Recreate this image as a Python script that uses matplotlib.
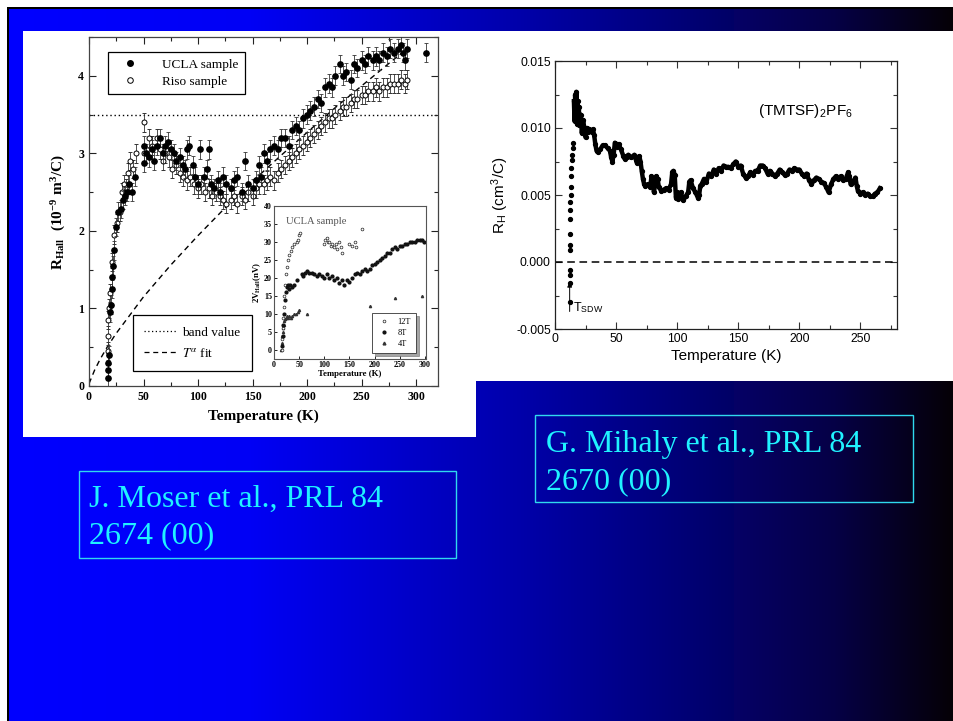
import numpy as np
import matplotlib
matplotlib.use("Agg")
import matplotlib.pyplot as plt
from matplotlib.patches import Rectangle
from matplotlib.lines import Line2D
from matplotlib.ticker import MultipleLocator, FormatStrFormatter

plt.rcParams["mathtext.fontset"] = "stix"

W, H = 954, 721
SERIF = "Liberation Serif"
SANS = "Liberation Sans"

# ---------------- left figure: Hall constant, UCLA and Riso samples ----------------
ucla_T = [17, 17, 17.5, 18, 19, 20, 21, 21, 22, 23, 25, 27, 29, 31, 33, 35, 37, 39, 42,
          50, 50, 52, 55, 58, 60, 62, 65, 68, 70, 72, 75, 78, 80, 83, 86, 88, 90, 92, 95,
          97, 100, 102, 105, 108, 110, 112, 115, 118, 120, 123, 126, 130, 133, 136, 140,
          143, 146, 150, 153, 156, 158, 160, 163, 166, 170, 173, 176, 180, 183, 186, 190,
          193, 196, 200, 203, 206, 210, 213, 216, 220, 223, 226, 230, 233, 236, 240, 243,
          246, 250, 253, 256, 260, 263, 266, 270, 273, 276, 280, 283, 286, 288, 290, 292, 309]
ucla_R = [0.10, 0.20, 0.30, 0.40, 0.95, 1.05, 1.25, 1.40, 1.55, 1.75, 2.05, 2.25, 2.28, 2.40,
          2.45, 2.50, 2.60, 2.50, 2.70, 2.88, 3.10, 3.00, 2.95, 3.05, 2.90, 3.10, 3.20, 3.00,
          3.10, 3.15, 3.05, 3.00, 2.90, 2.95, 2.85, 2.80, 3.05, 3.10, 2.85, 2.70, 2.60, 3.05,
          2.70, 2.80, 3.05, 2.60, 2.55, 2.65, 2.50, 2.70, 2.60, 2.55, 2.65, 2.70, 2.50, 2.90,
          2.60, 2.55, 2.65, 2.85, 2.70, 3.00, 2.90, 3.05, 3.10, 3.05, 3.20, 3.20, 3.10, 3.30,
          3.35, 3.30, 3.45, 3.50, 3.55, 3.60, 3.70, 3.65, 3.85, 3.90, 3.85, 4.00, 4.15, 4.00,
          4.05, 3.95, 4.15, 4.10, 4.20, 4.15, 4.25, 4.20, 4.25, 4.20, 4.30, 4.25, 4.35, 4.30,
          4.35, 4.40, 4.30, 4.20, 4.35, 4.30]
riso_T = [17, 17, 17, 18, 19, 21, 23, 26, 28, 30, 32, 34, 36, 38, 40, 43, 50, 50, 55, 58,
          62, 65, 68, 70, 73, 76, 80, 83, 86, 90, 93, 96, 100, 103, 106, 110, 113, 116, 120,
          123, 126, 130, 133, 136, 140, 143, 146, 150, 153, 156, 160, 163, 166, 170, 173, 176,
          180, 183, 186, 190, 193, 196, 200, 203, 206, 210, 213, 216, 220, 223, 226, 230, 233,
          236, 240, 243, 246, 250, 253, 256, 260, 263, 266, 270, 273, 276, 280, 283, 286, 290, 292]
riso_R = [0.45, 0.65, 0.85, 1.00, 1.20, 1.60, 1.95, 2.10, 2.25, 2.50, 2.60, 2.55, 2.75, 2.90,
          2.80, 3.00, 3.40, 3.00, 3.20, 3.10, 3.20, 3.05, 2.90, 3.00, 2.95, 2.80, 2.85, 2.75,
          2.70, 2.65, 2.70, 2.60, 2.55, 2.60, 2.50, 2.55, 2.45, 2.50, 2.45, 2.40, 2.35, 2.40,
          2.45, 2.35, 2.45, 2.40, 2.50, 2.45, 2.55, 2.60, 2.60, 2.65, 2.70, 2.65, 2.75, 2.80,
          2.85, 2.90, 2.95, 3.00, 3.05, 3.10, 3.15, 3.20, 3.25, 3.30, 3.35, 3.40, 3.45, 3.45,
          3.50, 3.55, 3.60, 3.60, 3.65, 3.70, 3.70, 3.75, 3.75, 3.80, 3.80, 3.85, 3.80, 3.85,
          3.85, 3.90, 3.90, 3.90, 3.95, 3.90, 3.95]
hall_err = 0.12
band_value = 3.5
fit_T = [0, 5, 10, 17, 25, 50, 75, 100, 125, 150, 175, 200, 225, 250, 275, 290]
fit_R = [0.03, 0.20, 0.34, 0.51, 0.68, 1.15, 1.56, 1.94, 2.30, 2.64, 2.96, 3.27, 3.58, 3.87, 4.16, 4.33]

# inset: Hall voltage at three fields
v12_T = [15, 16, 17, 18, 19, 20, 22, 24, 26, 28, 30, 33, 36, 40, 45, 48, 50, 52,
         100, 102, 105, 108, 110, 113, 116, 120, 123, 126, 130, 133, 136, 150, 155, 160, 162, 175]
v12_V = [0, 3, 6, 9, 12, 15, 18, 21, 23, 25, 26.5, 27.5, 28.5, 29.5, 30, 30.5, 32, 32.5,
         29.5, 30.5, 31, 30, 30, 29, 29.5, 28.5, 29.5, 28, 30, 28.5, 27, 29.5, 29, 30, 28.5, 33.5]
v8_T = [15, 17, 18, 20, 22, 24, 26, 28, 30, 32, 35, 40, 45, 55, 58, 62, 66, 70, 75, 80, 85,
        90, 95, 100, 105, 110, 115, 120, 125, 130, 135, 140, 145, 150, 155, 160, 165, 170,
        175, 180, 185, 190, 195, 200, 205, 210, 215, 220, 225, 230, 235, 240, 245, 250, 255,
        260, 265, 270, 275, 280, 285, 290, 295, 298]
v8_V = [1, 4, 7, 10, 14, 16, 17.5, 18, 17, 18, 17.5, 18, 19.5, 21, 20.5, 21.5, 22, 21.5,
        21.5, 21, 20.5, 21, 20.5, 20, 21, 20, 20.5, 19.5, 20, 18.5, 19.5, 18, 19.5, 19, 20,
        21, 21.5, 21, 22, 22.5, 22, 22.5, 23.5, 24, 24.5, 25, 25.5, 26, 27, 27, 28, 28.5,
        28, 29, 29, 29.5, 29.5, 30, 30, 30, 30.5, 30.5, 30.5, 30]
v4_T = [14, 15, 16, 17, 18, 19, 20, 22, 24, 26, 28, 30, 33, 36, 40, 44, 48, 50, 65, 190, 240, 295]
v4_V = [0, 2, 4, 5, 6, 7, 8, 8.5, 9, 9.5, 9, 9.5, 9, 9.5, 10, 10, 10.5, 11, 10, 12.3, 14.5, 15]

# ---------------- right figure: R_H of (TMTSF)2PF6 ----------------
rh_low_T = [12, 12, 12, 12, 12.2, 12.2, 12.3, 12.4, 12.5, 12.6, 12.8, 13, 13.2, 13.5, 13.8,
            14.2, 14.6, 15]
rh_low_R = [-0.0030, -0.0016, -0.0010, -0.0006, 0.0009, 0.0013, 0.0021, 0.0032, 0.0039,
            0.0045, 0.0050, 0.0056, 0.0064, 0.0070, 0.0076, 0.0080, 0.0085, 0.0089]
rh_T = [15.5, 16, 16.5, 17, 17.5, 18, 18.5, 19, 19.5, 20, 21, 22, 23, 24, 25, 26, 27, 28, 29,
        30, 31, 32, 33, 34, 35, 37, 39, 41, 43, 45, 46, 47, 48, 49, 50, 51, 52, 54, 56, 57,
        58, 59, 60, 62, 64, 65, 66, 67, 68, 69, 70, 71, 72, 73, 74, 76, 78, 79, 80, 81, 82,
        83, 84, 85, 87, 89, 91, 93, 95, 96, 97, 98, 99, 100, 101, 103, 105, 107, 109, 110,
        111, 113, 115, 117, 118, 119, 120, 122, 124, 126, 128, 130, 132, 134, 136, 138, 140,
        142, 144, 146, 148, 150, 152, 154, 156, 158, 160, 162, 164, 166, 168, 170, 172, 174,
        176, 178, 180, 182, 184, 186, 188, 190, 192, 194, 196, 198, 200, 202, 204, 206, 208,
        210, 212, 214, 216, 218, 220, 222, 224, 226, 228, 230, 232, 234, 236, 238, 240, 241,
        242, 244, 246, 247, 248, 250, 252, 254, 256, 258, 260, 262, 264, 266]
rh_R = [0.0120, 0.0105, 0.0125, 0.0110, 0.0127, 0.0103, 0.0120, 0.0108, 0.0116, 0.0102,
        0.0110, 0.0096, 0.0106, 0.0100, 0.0093, 0.0100, 0.0097, 0.0099, 0.0098, 0.0097,
        0.0099, 0.0095, 0.0088, 0.0083, 0.0082, 0.0084, 0.0087, 0.0087, 0.0085, 0.0083,
        0.0078, 0.0075, 0.0080, 0.0089, 0.0088, 0.0086, 0.0088, 0.0084, 0.0079, 0.0077,
        0.0079, 0.0078, 0.0080, 0.0078, 0.0079, 0.0080, 0.0077, 0.0074, 0.0078, 0.0079,
        0.0075, 0.0068, 0.0062, 0.0058, 0.0057, 0.0058, 0.0056, 0.0064, 0.0060, 0.0052,
        0.0058, 0.0064, 0.0062, 0.0056, 0.0053, 0.0054, 0.0055, 0.0054, 0.0058, 0.0067,
        0.0068, 0.0065, 0.0048, 0.0052, 0.0047, 0.0052, 0.0046, 0.0049, 0.0052, 0.0060,
        0.0061, 0.0055, 0.0052, 0.0048, 0.0050, 0.0057, 0.0058, 0.0062, 0.0060, 0.0066,
        0.0064, 0.0069, 0.0066, 0.0070, 0.0068, 0.0072, 0.0071, 0.0071, 0.0070, 0.0073,
        0.0075, 0.0071, 0.0072, 0.0066, 0.0063, 0.0064, 0.0067, 0.0065, 0.0068, 0.0068,
        0.0072, 0.0072, 0.0070, 0.0066, 0.0068, 0.0066, 0.0064, 0.0066, 0.0069, 0.0067,
        0.0065, 0.0066, 0.0069, 0.0068, 0.0070, 0.0069, 0.0069, 0.0066, 0.0064, 0.0066,
        0.0061, 0.0058, 0.0061, 0.0063, 0.0062, 0.0060, 0.0059, 0.0056, 0.0052, 0.0058,
        0.0062, 0.0064, 0.0062, 0.0064, 0.0061, 0.0062, 0.0067, 0.0064, 0.0058, 0.0060,
        0.0063, 0.0057, 0.0053, 0.0051, 0.0052, 0.0050, 0.0051, 0.0049, 0.0049, 0.0051,
        0.0052, 0.0055]
t_sdw = 12

caption_left = ["J. Moser et al., PRL 84", "2674 (00)"]
caption_right = ["G. Mihaly et al., PRL 84", "2670 (00)"]

# ---------------- slide ----------------
fig = plt.figure(figsize=(W / 100, H / 100), dpi=100)


def px_axes(x0, y0, x1, y1, **kw):
    return fig.add_axes([x0 / W, 1 - y1 / H, (x1 - x0) / W, (y1 - y0) / H], **kw)


def px_rect(x0, y0, x1, y1, **kw):
    r = Rectangle((x0 / W, 1 - y1 / H), (x1 - x0) / W, (y1 - y0) / H,
                  transform=fig.transFigure, **kw)
    fig.add_artist(r)
    return r


# horizontal blue-to-black background with a thin black frame on the top and left
bg = px_axes(0, 0, W, H)
cols = np.arange(W)
blue = np.interp(cols, [9, 250, 520, 834, 954], [255, 245, 170, 70, 5]) / 255.0
img = np.zeros((H, W, 3))
img[:, :, 2] = blue[None, :]
img[:, :, 0] = (blue[None, :] < 0.4) * 0.02
img[:7, :, :] = 1.0
img[:, :7, :] = 1.0
img[7:9, 7:, :] = 0.0
img[7:, 7:9, :] = 0.0
bg.imshow(img, aspect="auto", interpolation="nearest", extent=(0, W, H, 0))
bg.set_xlim(0, W)
bg.set_ylim(H, 0)
bg.set_axis_off()

# white panels of the two figures
px_rect(23, 31, 476, 437, facecolor="white", edgecolor="none", zorder=1)
px_rect(476, 31, 960, 381, facecolor="white", edgecolor="none", zorder=1)

# ----- left main plot -----
serif_bold = dict(family=SERIF, weight="bold")
ax = px_axes(89, 37, 438, 386)
ax.set_zorder(2)
ax.plot(fit_T, fit_R, ls=(0, (4, 3)), color="black", lw=1.0, zorder=1)
ax.axhline(band_value, ls=(0, (1, 2)), color="black", lw=1.0, zorder=1)
ax.errorbar(riso_T, riso_R, yerr=hall_err, fmt="o", ms=3.6, mfc="white", mec="black",
            mew=0.7, ecolor="#333333", elinewidth=0.6, capsize=1.5, capthick=0.6, zorder=2)
ax.errorbar(ucla_T, ucla_R, yerr=hall_err, fmt="o", ms=3.8, mfc="black", mec="black",
            ecolor="#333333", elinewidth=0.6, capsize=1.5, capthick=0.6, zorder=3)
ax.set_xlim(0, 320)
ax.set_ylim(0, 4.5)
ax.xaxis.set_major_locator(MultipleLocator(50))
ax.xaxis.set_minor_locator(MultipleLocator(25))
ax.yaxis.set_major_locator(MultipleLocator(1))
ax.yaxis.set_minor_locator(MultipleLocator(0.5))
ax.tick_params(which="both", direction="in", top=True, right=True, width=0.8, color="#222222")
ax.tick_params(which="major", length=5)
ax.tick_params(which="minor", length=3)
for lab in ax.get_xticklabels() + ax.get_yticklabels():
    lab.set_fontproperties(dict(family=SERIF, weight="bold", size=8.5))
for s in ax.spines.values():
    s.set_color("#444444")
    s.set_linewidth(0.9)
ax.set_xlabel("Temperature (K)", fontsize=11, labelpad=5, **serif_bold)
ax.set_ylabel(r"R$_\mathregular{Hall}$  (10$^\mathregular{-9}$ m$^\mathregular{3}$/C)",
              fontsize=11, labelpad=8, **serif_bold)

leg1 = ax.legend(handles=[
    Line2D([], [], ls="none", marker="o", ms=4, mfc="black", mec="black", label="UCLA sample"),
    Line2D([], [], ls="none", marker="o", ms=4, mfc="white", mec="black", mew=0.7, label="Riso sample")],
    loc="upper left", bbox_to_anchor=(0.054, 0.957), borderaxespad=0, fancybox=False,
    edgecolor="black", framealpha=1, prop=dict(family=SERIF, size=9.5), handlelength=2.4,
    handletextpad=1.2, borderpad=0.5, labelspacing=0.35)
leg1.get_frame().set_linewidth(0.9)
ax.add_artist(leg1)
leg2 = ax.legend(handles=[
    Line2D([], [], ls=(0, (1, 2)), color="black", lw=0.9, label="band value"),
    Line2D([], [], ls=(0, (4, 3)), color="black", lw=0.9, label=r"$T^{\alpha}$ fit")],
    loc="lower left", bbox_to_anchor=(0.126, 0.043), borderaxespad=0, fancybox=False,
    edgecolor="black", framealpha=1, prop=dict(family=SERIF, size=9.5), handlelength=2.5,
    handletextpad=0.4, borderpad=0.85, labelspacing=0.6)
leg2.get_frame().set_linewidth(0.9)

# ----- inset -----
ins = px_axes(274, 206, 426, 359)
ins.set_zorder(3)
ins.set_facecolor("white")
ins.plot(v4_T, v4_V, ls="none", marker="^", ms=1.6, color="#333333")
ins.plot(v12_T, v12_V, ls="none", marker="o", ms=2.0, mfc="white", mec="#222222", mew=0.5)
ins.plot(v8_T, v8_V, ls="none", marker="o", ms=2.0, color="#111111")
ins.set_xlim(0, 302)
ins.set_ylim(-2.5, 40)
ins.xaxis.set_major_locator(MultipleLocator(50))
ins.yaxis.set_major_locator(MultipleLocator(5))
ins.tick_params(direction="in", length=2.5, width=0.6, top=False, right=False, pad=1.5)
for lab in ins.get_xticklabels() + ins.get_yticklabels():
    lab.set_fontproperties(dict(family=SERIF, weight="bold", size=5.8))
for s in ins.spines.values():
    s.set_color("#555555")
    s.set_linewidth(0.8)
ins.set_xlabel("Temperature (K)", fontsize=6.3, labelpad=1, **serif_bold)
ins.set_ylabel(r"2V$_\mathregular{Hall}$(nV)", fontsize=6.3, labelpad=1, **serif_bold)
ins.text(0.08, 0.93, "UCLA sample", transform=ins.transAxes, family=SERIF, size=7.6,
         color="#555555", va="top")
leg3 = ins.legend(handles=[
    Line2D([], [], ls="none", marker="o", ms=2, mfc="white", mec="#222222", mew=0.5, label="12T"),
    Line2D([], [], ls="none", marker="o", ms=2, color="#111111", label="8T"),
    Line2D([], [], ls="none", marker="^", ms=2, color="#333333", label="4T")],
    loc="lower left", bbox_to_anchor=(0.648, 0.04), borderaxespad=0, fancybox=False,
    shadow=True, edgecolor="#333333", framealpha=1, prop=dict(family=SERIF, size=6),
    handlelength=1.6, handletextpad=0.8, borderpad=0.6, labelspacing=0.35)
leg3.get_frame().set_linewidth(0.6)

# ----- right plot -----
axr = px_axes(555, 61, 897, 329)
axr.set_zorder(2)
axr.axhline(0, ls=(0, (5, 3)), color="black", lw=1.1)
axr.plot(rh_T, rh_R, "-", color="black", lw=3.2, solid_joinstyle="round")
axr.plot(rh_T, rh_R, "o", color="black", ms=2.8)
axr.plot(rh_low_T, rh_low_R, "o", color="black", ms=2.8)
axr.annotate("", xy=(t_sdw, -0.0013), xytext=(t_sdw, -0.0039),
             arrowprops=dict(arrowstyle="-|>", color="black", lw=0.7, mutation_scale=7))
axr.text(t_sdw + 2.5, -0.0037, r"T$_\mathregular{SDW}$", family=SANS, size=9)
axr.text(166, 0.0110, r"(TMTSF)$_\mathregular{2}$PF$_\mathregular{6}$", family=SANS, size=11)
axr.set_xlim(0, 280)
axr.set_ylim(-0.005, 0.015)
axr.xaxis.set_major_locator(MultipleLocator(50))
axr.xaxis.set_minor_locator(MultipleLocator(25))
axr.yaxis.set_major_locator(MultipleLocator(0.005))
axr.yaxis.set_minor_locator(MultipleLocator(0.0025))
axr.yaxis.set_major_formatter(FormatStrFormatter("%.3f"))
axr.tick_params(which="both", direction="in", top=True, right=True, width=0.8, color="#333333")
axr.tick_params(which="major", length=5, pad=3)
axr.tick_params(which="minor", length=3)
for lab in axr.get_xticklabels() + axr.get_yticklabels():
    lab.set_fontproperties(dict(family=SANS, size=8.7))
for s in axr.spines.values():
    s.set_color("#222222")
    s.set_linewidth(0.9)
axr.set_xlabel("Temperature (K)", family=SANS, fontsize=11, labelpad=3)
axr.set_ylabel(r"R$_\mathregular{H}$ (cm$^\mathregular{3}$/C)", family=SANS, fontsize=11,
               labelpad=4)

# ----- reference captions -----
cyan = "#20f2ff"
px_rect(79, 471, 456, 558, facecolor="none", edgecolor="#30d8ee", lw=1.0, zorder=4)
px_rect(535, 415, 913, 502, facecolor="none", edgecolor="#30d8ee", lw=1.0, zorder=4)
for (x, ys, lines) in [(89, (507, 543), caption_left), (546, (452, 489), caption_right)]:
    for y, line in zip(ys, lines):
        fig.text(x / W, 1 - y / H, line, family=SERIF, size=23, color=cyan,
                 va="baseline", ha="left", zorder=5)

fig.savefig("out.png", dpi=100)
